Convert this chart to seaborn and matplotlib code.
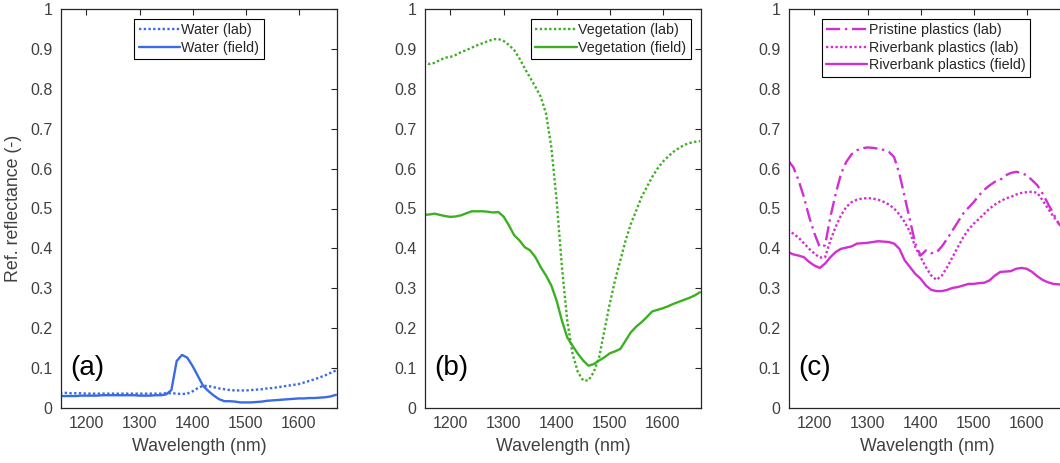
import numpy as np
import pandas as pd
import matplotlib
matplotlib.use("Agg")
import matplotlib.pyplot as plt
import seaborn as sns

# ---------------- data ----------------
wl = [1150, 1160, 1170, 1180, 1190, 1200, 1210, 1220, 1230, 1240, 1250, 1260,
      1270, 1280, 1290, 1300, 1310, 1320, 1330, 1340, 1350, 1360, 1370, 1380,
      1390, 1400, 1410, 1420, 1430, 1440, 1450, 1460, 1470, 1480, 1490, 1500,
      1510, 1520, 1530, 1540, 1550, 1560, 1570, 1580, 1590, 1600, 1610, 1620,
      1630, 1640, 1650, 1660, 1670]

water_lab = [0.038, 0.038, 0.037, 0.037, 0.037, 0.036, 0.036, 0.036, 0.036, 0.036, 0.036, 0.036,
             0.036, 0.036, 0.036, 0.036, 0.036, 0.036, 0.036, 0.036, 0.037, 0.037, 0.036, 0.035,
             0.036, 0.042, 0.050, 0.056, 0.055, 0.052, 0.049, 0.047, 0.045, 0.044, 0.044, 0.044,
             0.045, 0.046, 0.047, 0.049, 0.050, 0.052, 0.054, 0.056, 0.058, 0.060, 0.064, 0.068,
             0.072, 0.077, 0.082, 0.088, 0.094]
water_field = [0.030, 0.030, 0.030, 0.030, 0.031, 0.031, 0.031, 0.031, 0.032, 0.032, 0.032, 0.032,
               0.032, 0.032, 0.032, 0.031, 0.031, 0.031, 0.032, 0.032, 0.034, 0.045, 0.118, 0.133,
               0.126, 0.105, 0.080, 0.055, 0.042, 0.031, 0.022, 0.017, 0.017, 0.016, 0.014, 0.014,
               0.014, 0.015, 0.016, 0.018, 0.019, 0.020, 0.021, 0.022, 0.023, 0.024, 0.024, 0.025,
               0.025, 0.026, 0.027, 0.029, 0.033]

veg_lab = [0.869, 0.862, 0.865, 0.872, 0.878, 0.880, 0.885, 0.892, 0.897, 0.903, 0.909, 0.914,
           0.919, 0.924, 0.925, 0.920, 0.910, 0.897, 0.876, 0.851, 0.828, 0.805, 0.780, 0.738,
           0.654, 0.520, 0.353, 0.219, 0.136, 0.090, 0.069, 0.069, 0.090, 0.127, 0.194, 0.261,
           0.320, 0.370, 0.420, 0.462, 0.495, 0.529, 0.554, 0.579, 0.600, 0.617, 0.630, 0.642,
           0.651, 0.659, 0.664, 0.667, 0.669]
veg_field = [0.484, 0.485, 0.487, 0.484, 0.481, 0.479, 0.480, 0.483, 0.488, 0.493, 0.493, 0.493,
             0.492, 0.490, 0.491, 0.480, 0.458, 0.433, 0.420, 0.403, 0.395, 0.378, 0.353, 0.332,
             0.307, 0.269, 0.219, 0.177, 0.156, 0.136, 0.119, 0.106, 0.110, 0.119, 0.127, 0.137,
             0.142, 0.148, 0.169, 0.190, 0.204, 0.215, 0.228, 0.242, 0.246, 0.250, 0.255, 0.261,
             0.266, 0.271, 0.276, 0.282, 0.290]

pristine_lab = [0.621, 0.604, 0.571, 0.529, 0.479, 0.437, 0.403, 0.408, 0.479, 0.537, 0.587, 0.617,
                0.636, 0.646, 0.651, 0.653, 0.652, 0.650, 0.647, 0.642, 0.629, 0.587, 0.529, 0.470,
                0.412, 0.382, 0.395, 0.388, 0.390, 0.405, 0.424, 0.445, 0.466, 0.487, 0.502, 0.516,
                0.533, 0.547, 0.558, 0.567, 0.572, 0.583, 0.589, 0.592, 0.589, 0.583, 0.571, 0.558,
                0.537, 0.512, 0.487, 0.462, 0.450]
riverbank_lab = [0.447, 0.437, 0.427, 0.413, 0.399, 0.387, 0.377, 0.378, 0.420, 0.454, 0.483, 0.504,
                 0.516, 0.522, 0.525, 0.526, 0.525, 0.522, 0.517, 0.510, 0.500, 0.485, 0.466, 0.441,
                 0.403, 0.378, 0.353, 0.332, 0.321, 0.332, 0.353, 0.378, 0.403, 0.427, 0.447, 0.462,
                 0.474, 0.487, 0.500, 0.510, 0.518, 0.525, 0.529, 0.535, 0.539, 0.541, 0.542, 0.539,
                 0.520, 0.500, 0.480, 0.464, 0.445]
riverbank_field = [0.391, 0.385, 0.382, 0.378, 0.366, 0.357, 0.351, 0.362, 0.378, 0.391, 0.399, 0.402,
                   0.405, 0.412, 0.413, 0.414, 0.416, 0.418, 0.417, 0.416, 0.412, 0.399, 0.370, 0.353,
                   0.336, 0.324, 0.307, 0.296, 0.293, 0.293, 0.296, 0.301, 0.303, 0.307, 0.311, 0.311,
                   0.313, 0.314, 0.320, 0.332, 0.341, 0.342, 0.343, 0.349, 0.351, 0.349, 0.341, 0.330,
                   0.321, 0.315, 0.311, 0.310, 0.307]

y_ticks = [0, 0.1, 0.2, 0.3, 0.4, 0.5, 0.6, 0.7, 0.8, 0.9, 1]
y_ticklabels = ["0", "0.1", "0.2", "0.3", "0.4", "0.5", "0.6", "0.7", "0.8", "0.9", "1"]
x_ticks = [1200, 1300, 1400, 1500, 1600]
panel_labels = ["(a)", "(b)", "(c)"]

# ---------------- style ----------------
sns.set_theme(style="white")
plt.rcParams["font.family"] = ["Liberation Sans", "DejaVu Sans"]
grey = "#262626"
tick_grey = "#404040"

BLUE = "#3a6ae6"
GREEN = "#3cb022"
MAGENTA = "#d22fd2"

DOT = (0, (1, 1))
DASHDOT = (0, (6, 2, 1, 2))

fig = plt.figure(figsize=(10.6, 4.63), dpi=100)
W, H = 1060, 463
ax_bottom = (463 - 408) / H
ax_height = 399 / H
lefts = [61, 425, 789]
widths = [276, 276, 286]          # third panel runs past the image edge
xmax = [1672, 1672, 1672 + 10 / 0.5308]

panels = [
    [("Water (lab)", water_lab, BLUE, DOT),
     ("Water (field)", water_field, BLUE, "-")],
    [("Vegetation (lab)", veg_lab, GREEN, DOT),
     ("Vegetation (field)", veg_field, GREEN, "-")],
    [("Pristine plastics (lab)", pristine_lab, MAGENTA, DASHDOT),
     ("Riverbank plastics (lab)", riverbank_lab, MAGENTA, DOT),
     ("Riverbank plastics (field)", riverbank_field, MAGENTA, "-")],
]
legend_locs = [("upper center", (0.5, 0.975)),
               ("upper right", (0.963, 0.975)),
               ("upper left", (0.114, 0.975))]

for i, (left, series) in enumerate(zip(lefts, panels)):
    ax = fig.add_axes([left / W, ax_bottom, widths[i] / W, ax_height])
    for name, vals, col, ls in series:
        df = pd.DataFrame({"Wavelength": wl, "Reflectance": vals})
        sns.lineplot(data=df, x="Wavelength", y="Reflectance", ax=ax,
                     color=col, linestyle=ls, linewidth=1.7, label=name)
    ax.set_xlim(1152, xmax[i])
    ax.set_ylim(0, 1)
    ax.set_xticks(x_ticks)
    ax.set_xticklabels([str(t) for t in x_ticks])
    ax.set_yticks(y_ticks)
    ax.set_yticklabels(y_ticklabels)
    ax.tick_params(direction="in", length=4, width=0.8, top=True, right=True,
                   colors=grey, labelcolor=tick_grey, labelsize=11.5, pad=6)
    for sp in ax.spines.values():
        sp.set_color(grey)
        sp.set_linewidth(0.9)
        sp.set_visible(True)
    ax.set_xlabel("Wavelength (nm)", fontsize=12.8, color=tick_grey, labelpad=3)
    ax.xaxis.set_label_coords(138 / widths[i], -0.075)
    if i == 0:
        ax.set_ylabel("Ref. reflectance (-)", fontsize=12.8, color=tick_grey, labelpad=6)
    else:
        ax.set_ylabel("")
    loc, anchor = legend_locs[i]
    leg = ax.legend(loc=loc, bbox_to_anchor=anchor, fontsize=10.3, frameon=True,
                    fancybox=False, edgecolor="black", framealpha=1,
                    handlelength=2.9, handletextpad=0.1, borderpad=0.3,
                    labelspacing=0.25, borderaxespad=0)
    leg.get_frame().set_linewidth(0.8)
    ax.text(9 / widths[i], 0.1, panel_labels[i], transform=ax.transAxes, fontsize=20,
            color="black", va="center", ha="left")

fig.savefig("out.png", dpi=100)
